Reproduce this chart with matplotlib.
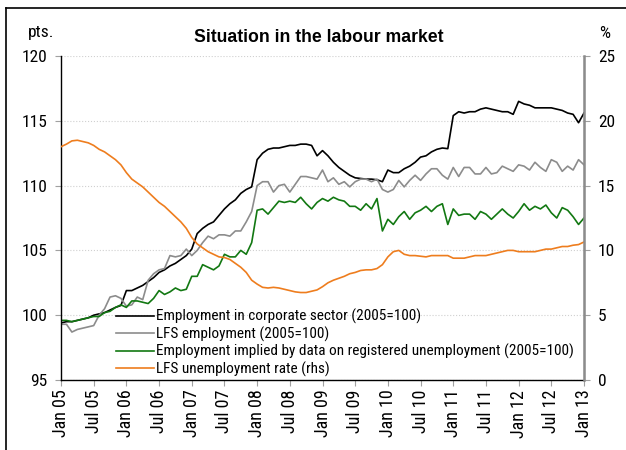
import matplotlib.pyplot as plt
from matplotlib.lines import Line2D

plt.rcParams['font.family'] = ['Roboto Condensed', 'Liberation Sans', 'DejaVu Sans']

# monthly data, Jan 05 .. Jan 13
corporate = [
    99.4, 99.5, 99.5, 99.6, 99.7, 99.8, 100.0, 100.1, 100.2, 100.4, 100.6, 100.75,
    101.9, 101.9, 102.1, 102.3, 102.6, 102.9, 103.3, 103.5, 103.8, 104.0, 104.3, 104.6,
    105.1, 106.3, 106.7, 107.0, 107.2, 107.7, 108.2, 108.6, 108.9, 109.4, 109.7, 109.9,
    112.0, 112.5, 112.8, 112.9, 112.9, 113.0, 113.1, 113.1, 113.2, 113.2, 113.1, 112.3,
    112.7, 112.3, 111.8, 111.4, 111.1, 110.8, 110.6, 110.55, 110.5, 110.5, 110.45, 110.3,
    111.2, 111.0, 111.0, 111.3, 111.5, 111.8, 112.2, 112.3, 112.6, 112.8, 112.9, 112.85,
    115.4, 115.7, 115.6, 115.7, 115.7, 115.9, 116.0, 115.9, 115.8, 115.7, 115.7, 115.5,
    116.5, 116.3, 116.2, 116.0, 116.0, 116.0, 116.0, 115.9, 115.8, 115.6, 115.5, 114.85,
    115.6,
]
lfs_emp = [
    99.3, 99.3, 98.7, 98.9, 99.0, 99.1, 99.2, 100.0, 100.5, 101.4, 101.5, 101.3,
    100.7, 100.8, 101.4, 101.2, 102.7, 103.2, 103.5, 103.6, 104.6, 104.5, 104.6, 105.1,
    104.6, 105.0, 105.6, 106.1, 105.9, 106.2, 106.2, 106.1, 106.5, 106.5, 107.2, 108.0,
    110.0, 110.3, 110.3, 109.5, 110.0, 110.1, 109.5, 110.1, 110.7, 110.7, 110.6, 110.5,
    111.2, 110.3, 110.6, 110.1, 110.3, 109.9, 110.3, 110.5, 110.5, 110.3, 110.5, 109.7,
    109.5, 109.7, 110.4, 109.9, 110.4, 110.8, 110.4, 110.9, 111.3, 111.3, 110.8, 110.5,
    111.4, 110.7, 111.4, 111.4, 110.9, 110.9, 111.4, 110.9, 111.0, 111.5, 111.3, 111.1,
    111.6, 111.5, 111.2, 111.8, 111.4, 111.1, 112.0, 111.8, 111.1, 111.5, 111.2, 112.0,
    111.6,
]
registered = [
    99.6, 99.6, 99.5, 99.6, 99.7, 99.8, 99.9, 99.9, 100.2, 100.3, 100.6, 100.8,
    100.6, 101.1, 101.1, 101.0, 100.9, 101.3, 101.9, 101.6, 101.8, 102.1, 101.9, 102.0,
    103.0, 103.0, 103.9, 103.7, 103.5, 103.8, 104.7, 104.5, 104.5, 105.0, 104.7, 105.6,
    108.1, 108.2, 107.8, 108.3, 108.8, 108.7, 108.8, 108.7, 109.1, 108.6, 108.2, 108.7,
    109.0, 108.8, 109.1, 108.9, 108.8, 108.4, 108.4, 108.1, 108.6, 108.2, 109.0, 106.5,
    107.4, 107.0, 107.6, 108.0, 107.4, 107.9, 108.1, 108.4, 108.0, 108.4, 108.6, 107.0,
    108.2, 107.7, 107.8, 107.8, 107.4, 108.0, 107.8, 107.4, 107.8, 108.2, 107.8, 107.5,
    108.0, 108.6, 108.1, 108.4, 108.2, 108.5, 107.9, 107.5, 108.3, 108.1, 107.6, 107.0,
    107.5,
]
unemp_rate = [
    18.0, 18.2, 18.45, 18.5, 18.4, 18.3, 18.1, 17.8, 17.6, 17.3, 17.0, 16.6,
    16.0, 15.5, 15.2, 14.9, 14.5, 14.1, 13.7, 13.4, 13.0, 12.6, 12.2, 11.7,
    11.0, 10.5, 10.2, 9.9, 9.7, 9.5, 9.45, 9.3, 9.0, 8.7, 8.3, 7.7,
    7.4, 7.15, 7.1, 7.15, 7.1, 7.0, 6.9, 6.8, 6.75, 6.75, 6.85, 6.95,
    7.2, 7.5, 7.7, 7.85, 8.0, 8.2, 8.3, 8.45, 8.5, 8.5, 8.6, 8.9,
    9.5, 9.9, 10.0, 9.7, 9.6, 9.6, 9.55, 9.5, 9.6, 9.6, 9.6, 9.6,
    9.4, 9.4, 9.4, 9.5, 9.6, 9.6, 9.6, 9.7, 9.8, 9.9, 10.0, 10.0,
    9.9, 9.9, 9.9, 9.9, 10.0, 10.1, 10.1, 10.2, 10.3, 10.3, 10.4, 10.45,
    10.65,
]

tick_labels = ['Jan 05', 'Jul 05', 'Jan 06', 'Jul 06', 'Jan 07', 'Jul 07', 'Jan 08', 'Jul 08',
               'Jan 09', 'Jul 09', 'Jan 10', 'Jul 10', 'Jan 11', 'Jul 11', 'Jan 12', 'Jul 12',
               'Jan 13']

months = list(range(len(corporate)))

fig = plt.figure(figsize=(6.26, 4.5), dpi=100)
ax = fig.add_axes([61 / 626, 1 - 380 / 450, 523 / 626, 324 / 450])
ax2 = ax.twinx()

l1, = ax.plot(months, corporate, color='black', lw=1.2)
l2, = ax.plot(months, lfs_emp, color='#8c8c8c', lw=1.2)
l3, = ax.plot(months, registered, color='#127812', lw=1.2)
l4, = ax2.plot(months, unemp_rate, color='#ee7d1e', lw=1.2)

ax.set_xlim(0, 96)
ax.set_ylim(95, 120)
ax2.set_ylim(0, 25)
ax.set_yticks(range(95, 121, 5))
ax2.set_yticks(range(0, 26, 5))
ax.set_xticks(range(0, 97, 6))
ax.set_xticklabels(tick_labels, rotation=90)

ax.grid(axis='y', color='#d0d0d0', ls=':', lw=0.8)
ax.set_axisbelow(True)

for a in (ax, ax2):
    a.spines['top'].set_visible(False)
ax.spines['left'].set_color('black')
ax.spines['bottom'].set_color('black')
ax.spines['left'].set_linewidth(1.0)
ax.spines['bottom'].set_linewidth(1.0)
ax2.spines['right'].set_color('#8c8c8c')
ax2.spines['right'].set_linewidth(1.8)
ax2.spines['left'].set_visible(False)
ax2.spines['bottom'].set_visible(False)

ax.tick_params(axis='both', colors='#a0a0a0', labelcolor='black', length=4)
ax.tick_params(axis='x', labelsize=13, pad=3)
ax.tick_params(axis='y', labelsize=12.5, pad=6)
ax2.tick_params(axis='y', colors='#a0a0a0', labelcolor='black', labelsize=12.5, length=4, pad=6)

ax.legend([l1, l2, l3, l4],
          ['Employment in corporate sector (2005=100)',
           'LFS employment (2005=100)',
           'Employment implied by data on registered unemployment (2005=100)',
           'LFS unemployment rate (rhs)'],
          loc='lower left', bbox_to_anchor=(0.105, 0.01), frameon=False,
          fontsize=11, handlelength=2.5, handletextpad=0.15, labelspacing=0.14,
          borderpad=0, borderaxespad=0)

fig.text(319 / 626, 1 - 38 / 450, 'Situation in the labour market', ha='center', va='center',
         fontsize=12.7, fontweight='bold', family=['Liberation Sans', 'DejaVu Sans'])
fig.text(41 / 626, 1 - 32 / 450, 'pts.', ha='center', va='center', fontsize=12.5)
fig.text(605 / 626, 1 - 34 / 450, '%', ha='center', va='center', fontsize=12.5)

# outer frame: left and top edges only
fig.add_artist(Line2D([6 / 626, 6 / 626], [0, 1 - 8 / 450], transform=fig.transFigure,
                      color='black', lw=1.2))
fig.add_artist(Line2D([6 / 626, 1], [1 - 8 / 450, 1 - 8 / 450], transform=fig.transFigure,
                      color='black', lw=1.2))

fig.savefig('out.png', dpi=100)
